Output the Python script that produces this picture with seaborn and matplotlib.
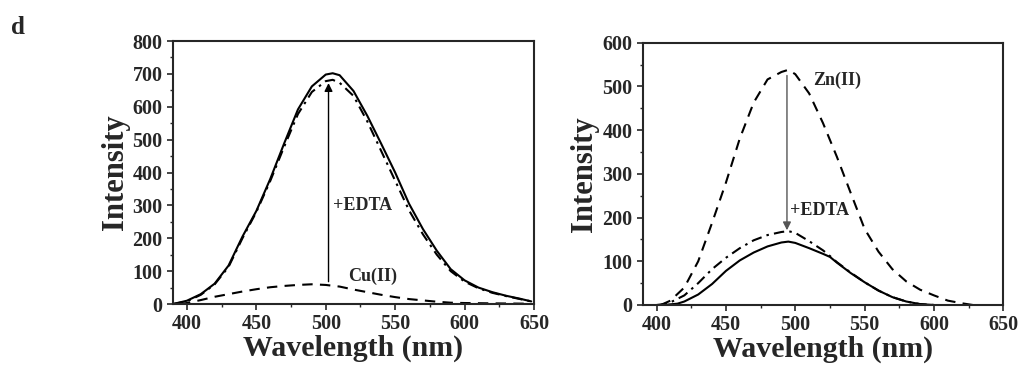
import matplotlib
matplotlib.use("Agg")
import matplotlib.pyplot as plt
import numpy as np
import pandas as pd
import seaborn as sns

# ---- panel 1 (Cu(II)) ----
wl_cu_solid = [390, 400, 410, 420, 430, 440, 450, 460, 470, 480, 490, 500, 505, 510,
               520, 530, 540, 550, 560, 570, 580, 590, 600, 610, 620, 630, 640, 648]
cu_edta = [0, 10, 30, 62, 117, 205, 283, 380, 488, 592, 662, 698, 702, 696,
           648, 572, 487, 400, 305, 228, 162, 106, 72, 50, 36, 25, 16, 8]
cu_probe = [0, 8, 28, 60, 113, 200, 280, 374, 478, 578, 645, 678, 682, 673,
            633, 555, 465, 375, 285, 212, 150, 100, 68, 48, 34, 24, 15, 8]
wl_cu_dash = [395, 400, 410, 420, 430, 440, 450, 460, 470, 480, 490, 500, 510, 520,
              530, 540, 550, 560, 570, 580, 590, 600, 620, 645]
cu_added = [0, 3, 12, 22, 30, 38, 45, 51, 55, 58, 60, 58, 53, 44,
            36, 28, 21, 15, 11, 7, 4, 3, 2, 1]

# ---- panel 2 (Zn(II)) ----
wl_zn_dash = [403, 410, 420, 430, 440, 450, 460, 470, 480, 490, 495, 500, 510, 520,
              530, 540, 550, 560, 570, 580, 590, 600, 610, 620, 628]
zn_added = [0, 10, 40, 100, 188, 280, 381, 463, 516, 533, 538, 528, 484, 416,
            339, 256, 174, 122, 82, 54, 35, 22, 10, 4, 0]
wl_zn_dd = [400, 405, 410, 420, 430, 440, 450, 460, 470, 480, 490, 495, 500, 510,
            520, 525, 530, 540, 550, 560, 570, 580, 590, 600]
zn_probe = [0, 2, 6, 22, 50, 82, 108, 130, 148, 160, 167, 169, 165, 146,
            125, 112, 98, 74, 52, 33, 18, 8, 2, 0]
wl_zn_solid = [405, 415, 420, 430, 440, 450, 460, 470, 480, 490, 495, 500, 510, 520,
               525, 530, 540, 550, 560, 570, 580, 590, 600]
zn_edta = [0, 3, 8, 24, 48, 78, 102, 120, 134, 143, 145, 142, 130, 117,
           110, 97, 73, 52, 33, 18, 8, 2, 0]

sns.set_style("ticks")
plt.rcParams["font.family"] = ["Liberation Serif", "DejaVu Serif"]
plt.rcParams["font.weight"] = "bold"
plt.rcParams["axes.labelweight"] = "bold"

fig = plt.figure(figsize=(10.22, 3.65), dpi=100)
ax1 = fig.add_axes([0.1693, 0.1671, 0.3532, 0.7205])
ax2 = fig.add_axes([0.6289, 0.1644, 0.3528, 0.7186])

dash = (5, 3.5)
dashdot = (5, 2.5, 1.2, 2.5)


def draw(ax, wl, vals, style):
    df = pd.DataFrame({"wl": wl, "I": vals})
    sns.lineplot(data=df, x="wl", y="I", ax=ax, color="black", lw=1.5)
    if style is not None:
        ax.lines[-1].set_dashes(style)


draw(ax1, wl_cu_dash, cu_added, dash)
draw(ax1, wl_cu_solid, cu_probe, dashdot)
draw(ax1, wl_cu_solid, cu_edta, None)

draw(ax2, wl_zn_dash, zn_added, dash)
draw(ax2, wl_zn_dd, zn_probe, dashdot)
draw(ax2, wl_zn_solid, zn_edta, None)

ax1.annotate("", xy=(502, 672), xytext=(502, 68),
             arrowprops=dict(arrowstyle="-|>", color="black", lw=1.0,
                             mutation_scale=12, shrinkA=0, shrinkB=0))
ax1.text(505, 300, "+EDTA", fontsize=13, fontweight="bold", va="center", ha="left")
ax1.text(516, 83, "Cu(II)", fontsize=13, fontweight="bold", va="center", ha="left")

ax2.annotate("", xy=(494, 171), xytext=(494, 525),
             arrowprops=dict(arrowstyle="-|>", color="#555555", lw=1.0,
                             mutation_scale=12, shrinkA=0, shrinkB=0))
ax2.text(496, 217, "+EDTA", fontsize=13, fontweight="bold", va="center", ha="left",
         color="#222222")
ax2.text(513, 515, "Zn(II)", fontsize=13, fontweight="bold", va="center", ha="left")

for ax, ymax in ((ax1, 800), (ax2, 600)):
    ax.set_xlim(390, 650)
    ax.set_ylim(0, ymax)
    ax.set_xticks(np.arange(400, 651, 50))
    ax.set_xticks(np.arange(400, 651, 25), minor=True)
    ax.set_yticks(np.arange(0, ymax + 1, 100))
    ax.set_yticks(np.arange(0, ymax + 1, 50), minor=True)
    ax.tick_params(which="major", direction="out", length=4, width=1.2, labelsize=14.5, pad=3.5)
    ax.tick_params(which="minor", direction="out", length=2.5, width=1.0)
    for lab in ax.get_xticklabels() + ax.get_yticklabels():
        lab.set_fontweight("bold")
    for sp in ax.spines.values():
        sp.set_visible(True)
        sp.set_linewidth(1.5)
    ax.set_xlabel("Wavelength (nm)", fontsize=21.5, fontweight="bold", labelpad=0)
    ax.set_ylabel("Intensity", fontsize=22, fontweight="bold", labelpad=2)

fig.text(0.018, 0.925, "d", fontsize=18, fontweight="bold", ha="center", va="center")

fig.savefig("out.png", dpi=100)
